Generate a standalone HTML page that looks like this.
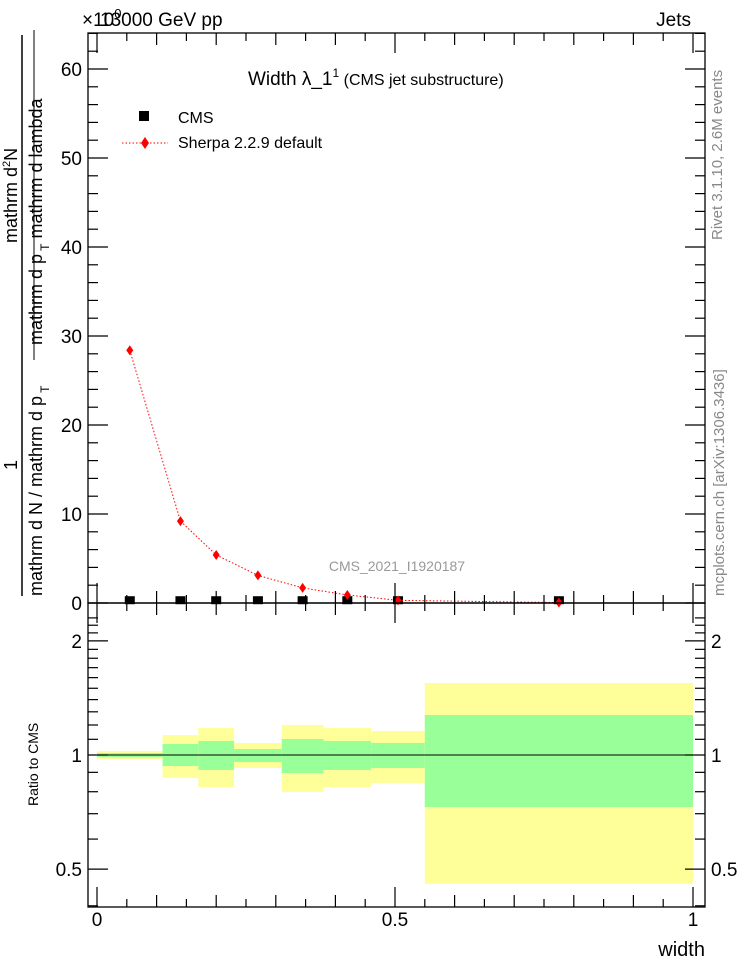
<!DOCTYPE html>
<html><head><meta charset="utf-8"><style>
body{margin:0;background:#fff;}
svg{display:block;font-family:"Liberation Sans",sans-serif;}
</style></head><body>
<svg id="c" width="746" height="972" viewBox="0 0 746 972" xmlns="http://www.w3.org/2000/svg">
<g id="bands"></g>
<g id="marks"></g>
<g id="axes"></g>
<text x="100" y="26" font-size="19">13000 GeV pp</text>
<text x="82" y="26" font-size="19">×10<tspan dy="-8" font-size="13">0</tspan></text>
<text x="691" y="26" font-size="19" text-anchor="end">Jets</text>
<text x="248" y="85" font-size="19">Width λ_1<tspan dy="-8" font-size="12">1</tspan><tspan dy="8" font-size="16"> (CMS jet substructure)</tspan></text>
<rect x="139" y="111" width="10" height="10" fill="#000"/>
<text x="178" y="123" font-size="16">CMS</text>
<line x1="122" y1="143" x2="168" y2="143" stroke="red" stroke-dasharray="1.5,2"/>
<path d="M145,137 L149,143 L145,149 L141,143Z" fill="red"/>
<text x="178" y="148" font-size="16">Sherpa 2.2.9 default</text>
<text x="397" y="571" font-size="14" fill="#999" text-anchor="middle">CMS_2021_I1920187</text>
<text transform="translate(722,240) rotate(-90)" font-size="15" fill="#888">Rivet 3.1.10,  2.6M events</text>
<text transform="translate(724,596) rotate(-90)" font-size="15" fill="#888">mcplots.cern.ch [arXiv:1306.3436]</text>
<line x1="22" y1="35" x2="22" y2="596" stroke="#000" stroke-width="1.5"/>
<text transform="translate(17,470) rotate(-90)" font-size="18">1</text>
<text transform="translate(17,243) rotate(-90)" font-size="18">mathrm d<tspan dy="-7" font-size="11">2</tspan><tspan dy="7">N</tspan></text>
<text transform="translate(42,596) rotate(-90)" font-size="18">mathrm d N / mathrm d p<tspan dy="7" font-size="12"> T</tspan></text>
<line x1="34" y1="360" x2="34" y2="30" stroke="#000" stroke-width="1"/>
<text transform="translate(42,345) rotate(-90)" font-size="18">mathrm d p<tspan dy="7" font-size="12"> T</tspan><tspan dy="-7"> mathrm d lambda</tspan></text>
<text transform="translate(38,806) rotate(-90)" font-size="14">Ratio to CMS</text>
<text x="705" y="956" font-size="20" text-anchor="end">width</text>
</svg>
<script>
const edges=[0,0.11,0.17,0.23,0.31,0.38,0.46,0.55,1.0];
const cmsVals=[0.2,0.2,0.2,0.2,0.2,0.2,0.2,0.2];
const sherpaVals=[28.4,9.2,5.4,3.1,1.7,0.9,0.3,0.05];
const green_hi=[1.012,1.069,1.089,1.037,1.102,1.089,1.076,1.275];
const green_lo=[0.988,0.935,0.913,0.958,0.896,0.913,0.924,0.729];
const yellow_hi=[1.025,1.129,1.178,1.076,1.200,1.178,1.157,1.549];
const yellow_lo=[0.976,0.870,0.823,0.924,0.799,0.823,0.844,0.457];
const yTicks=[0,10,20,30,40,50,60];
const rTicks=[0.5,1,2];
const xTicks=[0,0.5,1];

const NS="http://www.w3.org/2000/svg";
const L=88,R=705,T=33,B=603,RB=907;
const X=v=>97+v*596;
const Y=v=>603-v*8.9;
const RY=r=>755-379*Math.log10(r);
function mk(tag,attrs,parent){const e=document.createElementNS(NS,tag);for(const k in attrs)e.setAttribute(k,attrs[k]);document.getElementById(parent).appendChild(e);return e;}

// bands
for(let i=0;i<8;i++){
  const x1=X(edges[i]),x2=X(edges[i+1]);
  const y=mk('rect',{x:x1,y:RY(yellow_hi[i]),width:x2-x1,height:RY(yellow_lo[i])-RY(yellow_hi[i]),fill:'#ffff99'},'bands');
  
  
  const g=mk('rect',{x:x1,y:RY(green_hi[i]),width:x2-x1,height:RY(green_lo[i])-RY(green_hi[i]),fill:'#99ff99'},'bands');
  
  
}
const one=mk('line',{x1:X(0),x2:X(1),y1:RY(1),y2:RY(1),stroke:'#000','stroke-width':1},'bands');



// CMS points
const cen=[];for(let i=0;i<8;i++)cen.push((edges[i]+edges[i+1])/2);
cen.forEach((c,i)=>{
  const r=mk('rect',{x:X(c)-5,y:Y(cmsVals[i])-5,width:10,height:8,fill:'#000'},'marks');
  
  
});
// sherpa line
const pl=mk('polyline',{points:cen.map((c,i)=>X(c)+','+Y(sherpaVals[i])).join(' '),fill:'none',stroke:'red','stroke-width':1,'stroke-dasharray':'1.5,2'},'marks');


cen.forEach((c,i)=>{
  const x=X(c),y=Y(sherpaVals[i]);
  const p=mk('path',{d:`M${x},${y-5}L${x+3.5},${y}L${x},${y+5}L${x-3.5},${y}Z`,fill:'red'},'marks');
  
  
});

// frames
[[T,B],[B,RB]].forEach(([t,b])=>{
  const f=mk('rect',{x:L,y:t,width:R-L,height:b-t,fill:'none',stroke:'#000','stroke-width':1.3},'axes');
  
  
});
function tick(x1,y1,x2,y2){const t=mk('line',{x1,y1,x2,y2,stroke:'#000','stroke-width':1.2},'axes');}
function label(x,y,s,anchor,name,size){const t=mk('text',{x,y,'font-size':size||19,'text-anchor':anchor},'axes');t.textContent=s;}
// main y ticks
for(let v=0;v<=64;v+=2){const y=Y(v);const len=v%10===0?20:10;tick(L,y,L+len,y);tick(R,y,R-len,y);}
yTicks.forEach(v=>label(L-6,Y(v)+7,String(v),'end','y-tick-label'));
// x ticks
for(let k=0;k<=20;k++){const v=k*0.05,x=X(v);const len=k%10===0?20:(k%2===0?12:8);
  tick(x,B,x,B-len);tick(x,T,x,T+len);tick(x,B,x,B+len);tick(x,RB,x,RB-len);}
xTicks.forEach(v=>label(X(v),RB+19,String(v),'middle','x-tick-label'));
// ratio ticks
for(let k=4;k<=23;k++){const r=k/10,y=RY(r);if(y<B||y>RB)continue;const len=(k===5||k===10||k===20)?20:10;tick(L,y,L+len,y);tick(R,y,R-len,y);}
rTicks.forEach(r=>{label(L-6,RY(r)+7,String(r),'end','ratio-tick-label');label(R+6,RY(r)+7,String(r),'start','ratio-tick-label-right');});
</script>
</body></html>
